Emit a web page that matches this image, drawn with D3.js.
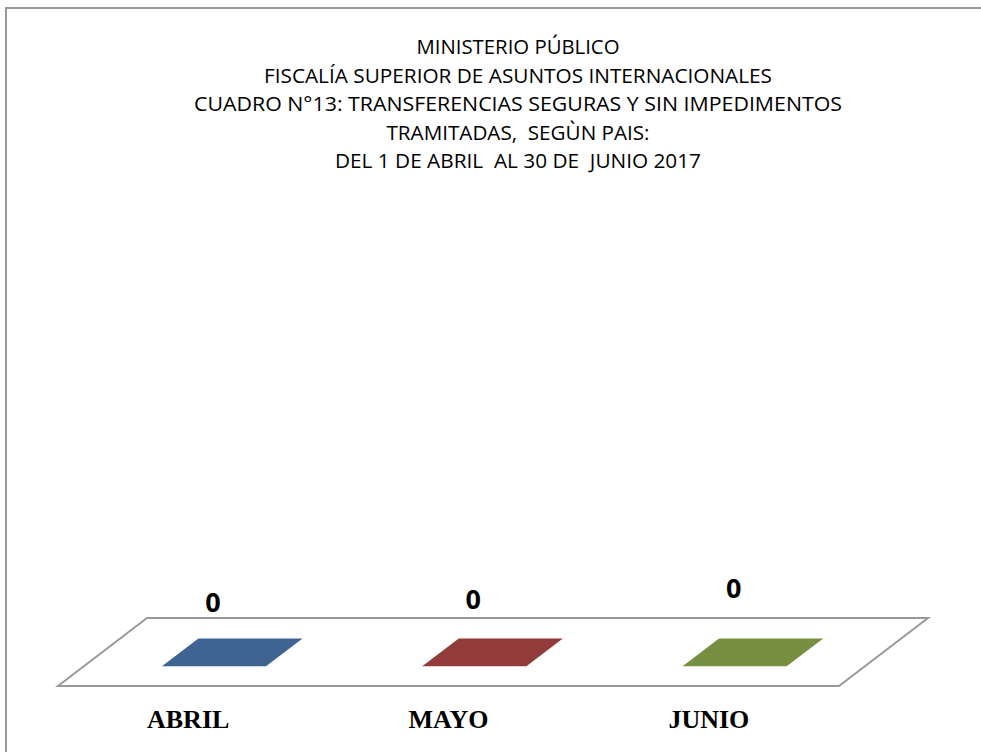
<!DOCTYPE html>
<html>
<head>
<meta charset="utf-8">
<script src="https://cdn.jsdelivr.net/npm/d3@7"></script>
<style>
  html, body { margin: 0; padding: 0; background: #fff; }
  svg { display: block; }
  text { white-space: pre; }
</style>
</head>
<body>
<div id="chart"></div>
<script>
// chart data
const months = ["ABRIL", "MAYO", "JUNIO"];
const values = [0, 0, 0];
const colors = ["#3f6491", "#923b3b", "#778f40"];
const titleLines = [
  "MINISTERIO PÚBLICO",
  "FISCALÍA SUPERIOR DE ASUNTOS INTERNACIONALES",
  "CUADRO N°13: TRANSFERENCIAS SEGURAS Y SIN IMPEDIMENTOS",
  "TRAMITADAS,  SEGÙN PAIS:",
  "DEL 1 DE ABRIL  AL 30 DE  JUNIO 2017"
];

const width = 981;
const height = 752;

const svg = d3.select("#chart")
  .append("svg")
  .attr("width", width)
  .attr("height", height);

// outer frame (only left and top edges are inside the picture)
svg.append("path")
  .attr("d", `M6,${height} L6,8 L${width},8`)
  .attr("fill", "none")
  .attr("stroke", "#999")
  .attr("stroke-width", 2);

// title
const titleWidths = [203, 508, 648, 263, 366];
svg.append("g")
  .selectAll("text")
  .data(titleLines)
  .enter().append("text")
  .attr("x", 518)
  .attr("y", (d, i) => 54 + i * 28.6)
  .attr("text-anchor", "middle")
  .attr("textLength", (d, i) => titleWidths[i])
  .attr("lengthAdjust", "spacingAndGlyphs")
  .style("font-family", "'Open Sans', sans-serif")
  .style("font-size", "20px")
  .style("fill", "#000")
  .text(d => d);

// 3d floor geometry
const floorFront = 686;     // y of front edge
const depthY = 68;          // vertical depth of the floor
const depthX = 89;          // horizontal shift of the back edge
const left = 58, right = 839;

const x = d3.scaleBand()
  .domain(months)
  .range([left, right])
  .padding(0);

const y = d3.scaleLinear()
  .domain([0, Math.max(1, d3.max(values))])
  .range([0, 300]);

// floor
svg.append("path")
  .attr("d", `M${left},${floorFront} L${left + depthX},${floorFront - depthY} L${right + depthX},${floorFront - depthY} L${right},${floorFront} Z`)
  .attr("fill", "#fff")
  .attr("stroke", "#999")
  .attr("stroke-width", 2);

// bars: a box from depth d0 to d1; with zero value only its top face shows
const d0 = 0.29, d1 = 0.70;
const barW = x.bandwidth() * 0.4;

function pt(px, frac, h) {
  return [px + frac * depthX, floorFront - frac * depthY - h];
}

const bars = svg.append("g")
  .selectAll("g")
  .data(months.map((m, i) => ({ m, v: values[i], c: colors[i] })))
  .enter().append("g");

// front face
bars.append("path")
  .attr("d", d => {
    const x0 = x(d.m) + (x.bandwidth() - barW) / 2, x1 = x0 + barW;
    const h = y(d.v);
    const a = pt(x0, d0, 0), b = pt(x1, d0, 0), c = pt(x1, d0, h), e = pt(x0, d0, h);
    return `M${a}L${b}L${c}L${e}Z`;
  })
  .attr("fill", d => d3.color(d.c).darker(0.3));

// top face
bars.append("path")
  .attr("d", d => {
    const x0 = x(d.m) + (x.bandwidth() - barW) / 2, x1 = x0 + barW;
    const h = y(d.v);
    const a = pt(x0, d0, h), b = pt(x1, d0, h), c = pt(x1, d1, h), e = pt(x0, d1, h);
    return `M${a}L${b}L${c}L${e}Z`;
  })
  .attr("fill", d => d.c);

// value labels
const labelLift = [0, 3, 14];
bars.append("text")
  .attr("x", d => x(d.m) + x.bandwidth() / 2 + d0 * depthX - 1)
  .attr("y", (d, i) => floorFront - depthY - 6 - y(d.v) - labelLift[i])
  .attr("text-anchor", "middle")
  .style("font-family", "'Open Sans', sans-serif")
  .style("font-weight", "bold")
  .style("font-size", "27px")
  .text(d => d.v);

// category labels
svg.append("g")
  .selectAll("text")
  .data(months)
  .enter().append("text")
  .attr("x", d => x(d) + x.bandwidth() / 2)
  .attr("y", 728)
  .attr("text-anchor", "middle")
  .style("font-family", "'Liberation Serif', serif")
  .style("font-weight", "bold")
  .style("font-size", "26px")
  .text(d => d);
</script>
</body>
</html>
